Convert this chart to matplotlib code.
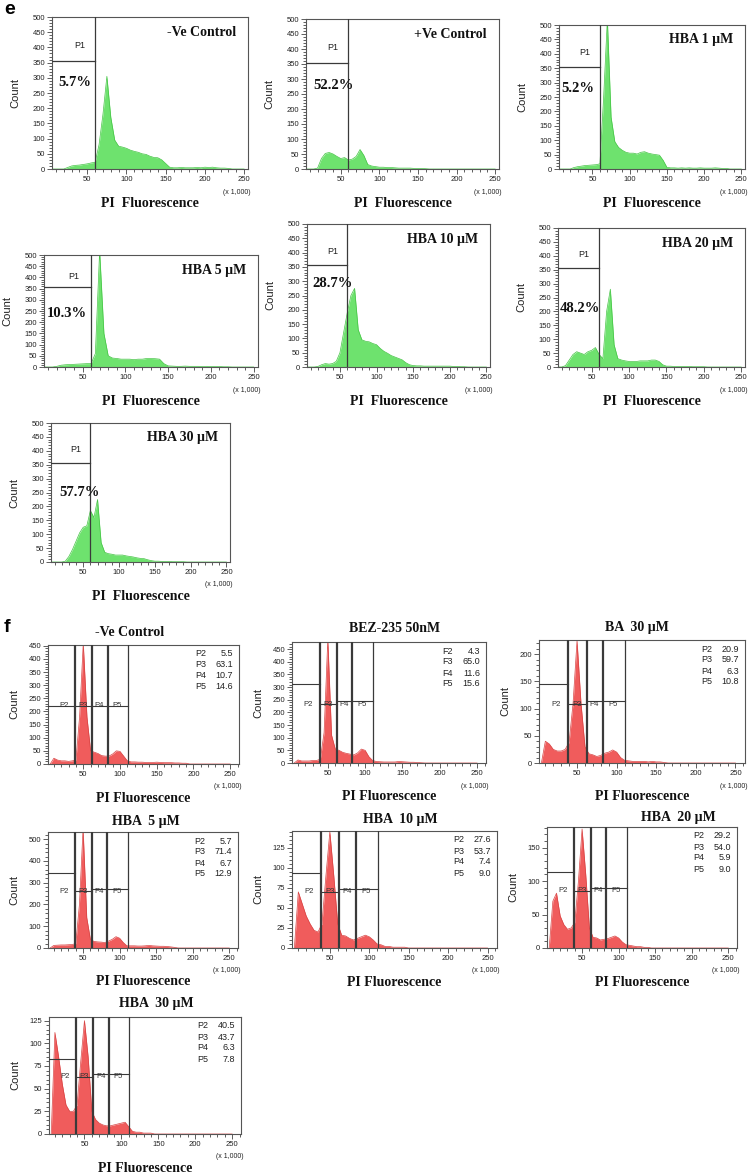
import numpy as np
import matplotlib
matplotlib.use('Agg')
import matplotlib.pyplot as plt
from matplotlib.ticker import MultipleLocator, FixedLocator

SANS = ['Liberation Sans', 'DejaVu Sans']
SERIF = ['Liberation Serif', 'DejaVu Serif']
plt.rcParams['font.family'] = SANS

W, H = 748, 1174

# ---------------- data ----------------
# histogram bins (PI fluorescence, x 1,000)
BINS = list(range(5, 255, 5))

# panel e : sub-G1 analysis (counts per bin)
E_TITLES = ['-Ve Control', '+Ve Control', 'HBA 1 µM', 'HBA 5 µM', 'HBA 10 µM', 'HBA 20 µM', 'HBA 30 µM']
E_P1 = ['5.7%', '52.2%', '5.2%', '10.3%', '28.7%', '48.2%', '57.7%']

e_neg = [0, 0, 0, 0, 5, 10, 12, 13, 15, 17,
         20, 22, 80, 180, 305, 170, 95, 75, 72, 68,
         62, 58, 55, 50, 48, 42, 38, 37, 30, 18,
         6, 4, 4, 5, 4, 4, 4, 5, 4, 6,
         5, 6, 4, 3, 3, 2, 0, 0, 0, 0]
e_pos = [0, 0, 0, 3, 35, 52, 55, 50, 42, 35,
         38, 30, 33, 42, 65, 45, 15, 10, 8, 6,
         6, 5, 5, 4, 3, 3, 3, 3, 2, 2,
         2, 1, 0, 0, 0, 0, 0, 0, 0, 0,
         0, 0, 0, 0, 0, 0, 0, 0, 0, 0]
e_hba1 = [0, 0, 0, 0, 5, 8, 10, 12, 13, 14,
          15, 18, 250, 520, 180, 95, 75, 65, 58, 55,
          55, 52, 58, 60, 55, 52, 50, 48, 30, 6,
          4, 4, 3, 4, 3, 4, 3, 3, 4, 3,
          3, 3, 4, 3, 2, 2, 0, 0, 0, 0]
e_hba5 = [0, 0, 0, 3, 8, 10, 11, 12, 13, 14,
          15, 15, 60, 520, 150, 50, 40, 38, 35, 35,
          35, 33, 35, 35, 38, 38, 37, 35, 15, 5,
          4, 3, 3, 4, 3, 3, 3, 2, 3, 2,
          2, 2, 1, 1, 0, 0, 0, 0, 0, 0]
e_hba10 = [0, 0, 0, 2, 8, 12, 10, 12, 20, 50,
           120, 190, 250, 275, 130, 95, 90, 88, 82, 78,
           65, 55, 48, 40, 35, 30, 25, 15, 8, 5,
           4, 4, 3, 3, 3, 3, 3, 3, 3, 3,
           2, 2, 1, 1, 0, 0, 0, 0, 0, 0]
e_hba20 = [0, 0, 5, 25, 45, 55, 50, 45, 55, 60,
           70, 45, 30, 200, 280, 80, 30, 25, 22, 20,
           20, 20, 22, 22, 22, 25, 25, 20, 8, 3,
           3, 2, 2, 2, 2, 2, 1, 1, 1, 1,
           0, 0, 0, 0, 0, 0, 0, 0, 0, 0]
e_hba30 = [0, 0, 0, 0, 3, 20, 45, 75, 105, 125,
           130, 185, 160, 225, 70, 35, 30, 28, 25, 25,
           25, 22, 20, 18, 15, 13, 12, 8, 5, 3,
           3, 2, 2, 2, 1, 1, 1, 1, 0, 0,
           0, 0, 0, 0, 0, 0, 0, 0, 0, 0]

# panel f : cell-cycle distribution (counts per bin)
F_TITLES = ['-Ve Control', 'BEZ-235 50nM', 'BA  30 µM', 'HBA  5 µM', 'HBA  10 µM', 'HBA  20 µM', 'HBA  30 µM']
F_GATES = ['P2', 'P3', 'P4', 'P5']
F_STAT_NAMES = [['P2', 'P3', 'P4', 'P5'], ['F2', 'F3', 'F4', 'F5'], ['P2', 'P3', 'P4', 'P5'],
                ['P2', 'P3', 'P4', 'P5'], ['P2', 'P3', 'P4', 'P5'], ['P2', 'P3', 'P4', 'P5'],
                ['P2', 'P3', 'P4', 'P5']]
F_STATS = [['5.5', '63.1', '10.7', '14.6'],
           ['4.3', '65.0', '11.6', '15.6'],
           ['20.9', '59.7', '6.3', '10.8'],
           ['5.7', '71.4', '6.7', '12.9'],
           ['27.6', '53.7', '7.4', '9.0'],
           ['29.2', '54.0', '5.9', '9.0'],
           ['40.5', '43.7', '6.3', '7.8']]

f_neg = [0, 22, 15, 12, 12, 10, 12, 15, 180, 460,
         180, 50, 45, 40, 32, 30, 30, 38, 50, 48,
         30, 12, 8, 8, 7, 7, 6, 6, 6, 7,
         6, 5, 5, 5, 4, 4, 3, 3, 0, 0,
         0, 0, 0, 0, 0, 0, 0, 0, 0, 0]
f_bez = [0, 12, 8, 8, 8, 10, 10, 15, 120, 490,
         110, 55, 50, 42, 38, 35, 32, 40, 55, 50,
         25, 10, 6, 5, 4, 4, 4, 4, 6, 5,
         4, 3, 3, 2, 1, 0, 0, 0, 0, 0,
         0, 0, 0, 0, 0, 0, 0, 0, 0, 0]
f_ba30 = [0, 40, 35, 25, 22, 22, 25, 38, 110, 225,
          110, 30, 17, 15, 12, 14, 18, 20, 24, 20,
          10, 5, 4, 3, 3, 3, 3, 2, 3, 2,
          2, 1, 0, 0, 0, 0, 0, 0, 0, 0,
          0, 0, 0, 0, 0, 0, 0, 0, 0, 0]
f_hba5 = [0, 12, 13, 14, 14, 15, 16, 20, 200, 550,
          140, 40, 30, 28, 27, 25, 32, 40, 52, 45,
          25, 10, 10, 10, 9, 9, 10, 12, 10, 9,
          8, 8, 7, 5, 3, 0, 0, 0, 0, 0,
          0, 0, 0, 0, 0, 0, 0, 0, 0, 0]
f_hba10 = [0, 70, 55, 40, 30, 22, 20, 30, 90, 145,
           90, 30, 16, 15, 12, 10, 12, 14, 16, 14,
           10, 5, 4, 2, 2, 1, 1, 1, 1, 0,
           0, 0, 0, 0, 0, 0, 0, 0, 0, 0,
           0, 0, 0, 0, 0, 0, 0, 0, 0, 0]
f_hba20 = [0, 70, 82, 48, 35, 28, 30, 38, 100, 178,
           110, 30, 16, 15, 12, 13, 14, 16, 18, 15,
           9, 5, 4, 3, 2, 2, 1, 1, 0, 0,
           0, 0, 0, 0, 0, 0, 0, 0, 0, 0,
           0, 0, 0, 0, 0, 0, 0, 0, 0, 0]
f_hba30 = [0, 112, 85, 55, 32, 25, 25, 32, 80, 125,
           85, 25, 16, 12, 10, 9, 9, 10, 11, 12,
           13, 8, 3, 2, 2, 1, 1, 1, 0, 0,
           0, 0, 0, 0, 0, 0, 0, 0, 0, 0,
           0, 0, 0, 0, 0, 0, 0, 0, 0, 0]

E_DATA = [e_neg, e_pos, e_hba1, e_hba5, e_hba10, e_hba20, e_hba30]
F_DATA = [f_neg, f_bez, f_ba30, f_hba5, f_hba10, f_hba20, f_hba30]

# ---------------- layout / style ----------------
E_RECTS = [(52, 17, 248, 169), (306, 19, 499, 169), (559, 25, 745, 169),
           (44, 255, 258, 367), (307, 224, 490, 367), (558, 228, 745, 367),
           (51, 423, 230, 562)]
E_PCT_POS = [(13, 286), (14, 279), (8, 281), (8, 240), (12, 293), (8, 210), (16, 251)]

F_RECTS = [(48, 645, 239, 764), (292, 642, 486, 763), (539, 640, 745, 763),
           (48, 832, 238, 948), (292, 831, 497, 948), (547, 827, 737, 948),
           (49, 1017, 241, 1134)]
F_YLIM = [(453, 50, 10), (478, 50, 10), (226, 50, 10), (533, 100, 20),
          (146, 25, 5), (181, 50, 10), (129, 25, 5)]
F_TITLE_POS = [(130, 632), (395, 628), (637, 628), (146, 822), (400, 820), (678, 818), (156, 1003)]
# gate horizontal levels for P2, P3, P4/P5
F_GATE_Y = [(222, 222, 222), (312, 233, 246), (145, 108, 114), (344, 260, 272),
            (93, 70, 74), (114, 86, 90), (83, 63, 66)]
GATE_X = [39, 62, 83, 111]

GREEN, GREEN_E = '#6ee26e', '#45c445'
RED, RED_E = '#f05c5c', '#d84343'
LINEC = '#3a3a3a'

fig = plt.figure(figsize=(W / 100, H / 100), dpi=100)


def pt(p):
    return p * 0.72


def make_ax(rect, xlim, ymax, ymaj, ymin_, ylab_dx, xlabel):
    l, t, r, b = rect
    aw, ah = r - l, b - t
    ax = fig.add_axes([l / W, 1 - b / H, aw / W, ah / H])
    ax.set_xlim(*xlim)
    ax.set_ylim(0, ymax)
    ax.xaxis.set_major_locator(FixedLocator([50, 100, 150, 200, 250]))
    ax.xaxis.set_minor_locator(FixedLocator(list(range(10, 261, 10))))
    ax.yaxis.set_major_locator(MultipleLocator(ymaj))
    ax.yaxis.set_minor_locator(MultipleLocator(ymin_))
    ax.tick_params(which='both', direction='out', labelsize=5.5, color='#444',
                   width=0.6, pad=1.5, labelcolor='#222')
    ax.tick_params(which='major', length=3.5)
    ax.tick_params(which='minor', length=2.2)
    for s in ax.spines.values():
        s.set_color('#555')
        s.set_linewidth(0.8)
    ax.set_ylabel('Count', fontsize=8, color='#222')
    ax.yaxis.set_label_coords(-ylab_dx / aw, 0.5)
    ax.yaxis.label.set_va('center')
    ax.set_xlabel(xlabel, fontfamily=SERIF, fontweight='bold', fontsize=10, color='#111')
    ax.xaxis.set_label_coords(0.5, -34 / ah)
    ax.xaxis.label.set_va('center')
    ax.annotate('(x 1,000)', xy=(1, 0), xycoords='axes fraction',
                xytext=(pt(3), pt(-23)), textcoords='offset points',
                ha='right', va='center', fontsize=5, color='#222')
    return ax


# ---------------- panel e ----------------
for i in range(7):
    rect = E_RECTS[i]
    ax = make_ax(rect, (5, 255), 500, 50, 10, 37, 'PI  Fluorescence')
    ax.fill_between(BINS, E_DATA[i], 0, color=GREEN, lw=0, zorder=1)
    ax.plot(BINS, E_DATA[i], color=GREEN_E, lw=0.5, zorder=1.5)
    ax.axvline(60, color=LINEC, lw=0.9, zorder=3)
    ax.plot([5, 60], [355, 355], color=LINEC, lw=0.9, zorder=3)
    ax.text(40, 405, 'P1', fontsize=6.5, ha='center', va='center', color='#222', zorder=4)
    px, py = E_PCT_POS[i]
    ax.text(px, py, E_P1[i], fontfamily=SERIF, fontweight='bold', fontsize=10.5,
            ha='left', va='center', color='#111', zorder=4)
    ax.annotate(E_TITLES[i], xy=(1, 1), xycoords='axes fraction',
                xytext=(pt(-12), pt(-15)), textcoords='offset points',
                ha='right', va='center', fontfamily=SERIF, fontweight='bold',
                fontsize=10, color='#111')

# ---------------- panel f ----------------
for i in range(7):
    rect = F_RECTS[i]
    ymax, ymaj, ymin_ = F_YLIM[i]
    ax = make_ax(rect, (2, 262), ymax, ymaj, ymin_, 34, 'PI Fluorescence')
    ax.fill_between(BINS, F_DATA[i], 0, color=RED, lw=0, zorder=1)
    ax.plot(BINS, F_DATA[i], color=RED_E, lw=0.5, zorder=1.5)
    for gx, lw in zip(GATE_X, [1.6, 1.6, 1.6, 0.9]):
        ax.axvline(gx, color=LINEC, lw=lw, zorder=3)
    y2, y3, y45 = F_GATE_Y[i]
    ax.plot([2, GATE_X[0]], [y2, y2], color=LINEC, lw=0.8, zorder=3)
    ax.plot([GATE_X[0], GATE_X[1]], [y3, y3], color=LINEC, lw=0.8, zorder=3)
    ax.plot([GATE_X[1], GATE_X[3]], [y45, y45], color=LINEC, lw=0.8, zorder=3)
    lab_x = [24, 50, 72, 96]
    for g, lx in zip(F_GATES, lab_x):
        ax.text(lx, y3, g, fontsize=5.5, ha='center', va='center', color='#333', zorder=4)
    for k in range(4):
        yoff = -9 - 11 * k
        ax.annotate(F_STAT_NAMES[i][k], xy=(1, 1), xycoords='axes fraction',
                    xytext=(pt(-44), pt(yoff)), textcoords='offset points',
                    ha='left', va='center', fontsize=6.5, color='#222')
        ax.annotate(F_STATS[i][k], xy=(1, 1), xycoords='axes fraction',
                    xytext=(pt(-6), pt(yoff)), textcoords='offset points',
                    ha='right', va='center', fontsize=6.5, color='#222')
    tx, ty = F_TITLE_POS[i]
    fig.text(tx / W, 1 - ty / H, F_TITLES[i], fontfamily=SERIF, fontweight='bold',
             fontsize=10, ha='center', va='center', color='#111')

fig.text(4 / W, 1 - 9 / H, 'e', fontsize=14, fontweight='bold', ha='left', va='center')
fig.text(4 / W, 1 - 628 / H, 'f', fontsize=14, fontweight='bold', ha='left', va='center')

fig.savefig('out.png', dpi=100, facecolor='white')
